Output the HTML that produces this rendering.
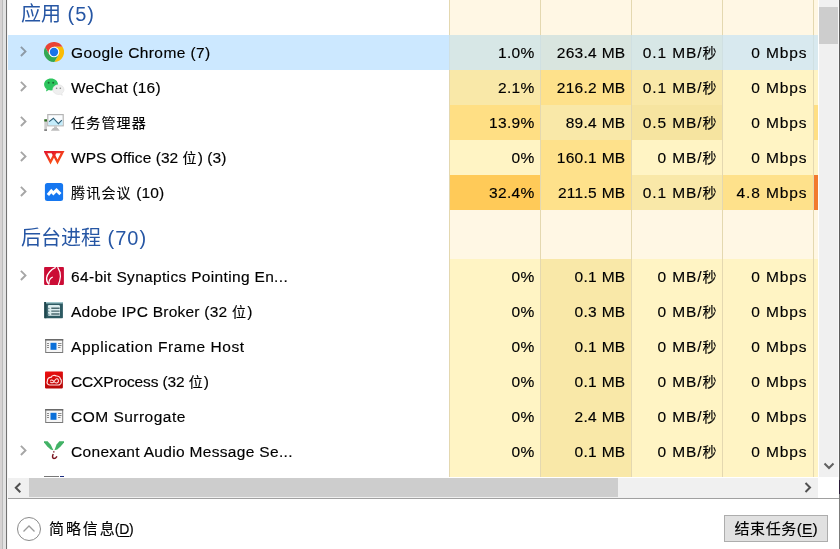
<!DOCTYPE html>
<html><head><meta charset="utf-8"><style>
*{margin:0;padding:0;box-sizing:border-box}
html,body{width:840px;height:549px;overflow:hidden;background:#fff}
body{position:relative;font-family:"Liberation Sans","Noto Sans CJK SC",sans-serif;font-size:15.5px;color:#000;-webkit-text-stroke-width:.15px}
.a{position:absolute}
.cj{font-family:"Noto Sans CJK SC",sans-serif;font-size:14px;line-height:1;letter-spacing:1.2px}
/* left frame */
#lf0{left:0;top:0;width:2px;height:549px;background:#d6d3d3}
#lf1{left:2px;top:0;width:1px;height:549px;background:#bcbcbc}
#lf2{left:3px;top:0;width:3px;height:549px;background:#e2e2e2}
#lf3{left:6px;top:0;width:1px;height:549px;background:#727272}
#lf4{left:7px;top:0;width:1px;height:549px;background:#f7f7f7}
/* rows */
.row{position:absolute;left:8px;width:810px;height:35px;line-height:35px;white-space:nowrap}
.nm{position:absolute;left:63px;top:0}
.chev{position:absolute;left:12px;top:0}
.ic{position:absolute;left:36px}
.c{position:absolute;top:0;height:35px;width:91px;border-left:1px solid #e4d8b0;text-align:right;padding-right:5.5px;letter-spacing:.3px}
.c3,.c4{letter-spacing:.9px}
.c1{left:441px}.c2{left:532px}.c3{left:623px}.c4{left:714px}.c5{left:805px;width:5px}
.c .cj{letter-spacing:0}
.sel{background:#cce8ff}
.sel .c{background:#d7e7e6;border-left-color:#d0e0e2}
.sel .c2{background:#d9e5df}.sel .c4,.sel .c5{background:#d8e9ef}
.grp{position:absolute;left:8px;width:810px;height:49px;white-space:nowrap}
.grp .t{position:absolute;left:13px;top:4px;letter-spacing:1px;-webkit-text-stroke-width:0;line-height:49px;color:#2656a4;font-size:20px}
.grp .t .cj{font-size:20px;letter-spacing:0}
.grp .c{height:49px;background:#fff7e4}
.l0{background:#fff4c4}
.l1{background:#f9e8a8}
.l2{background:#f6e4a0}
.l3{background:#fee18b}
.l4{background:#ffdf84}
.l5{background:#ffca58}
.lr{background:#f27a2e}
/* scrollbars */
#vs{left:819px;top:0;width:19px;height:477px;background:#f0f0f0}
#vs2{left:838px;top:0;width:1px;height:477px;background:#f8f8f8}
#vsw{left:818px;top:0;width:1px;height:477px;background:#fff}
#vth{left:819px;top:7px;width:19px;height:37px;background:#cdcdcd}
#hs{left:8px;top:478px;width:810px;height:20px;background:#f0f0f0}
#hth{left:29px;top:478px;width:589px;height:19px;background:#cdcdcd}
#corner{left:818px;top:477px;width:21px;height:21px;background:#fff}
#sep{left:8px;top:498px;width:831px;height:1px;background:#a0a0a0}
#rb{left:839px;top:0;width:1px;height:549px;background:#5c5c5c}
#rb2{left:839px;top:494px;width:1px;height:55px;background:#7c7c7c}
#rb3{left:839px;top:480px;width:1px;height:14px;background:#2a1a36}
#btn{left:724px;top:515px;width:104px;height:27px;background:#e1e1e1;border:1px solid #adadad;text-align:center;line-height:25px}
#fw{left:49px;top:515px;line-height:27px;font-size:16px}
u{text-decoration:underline;text-underline-offset:2px}
</style></head><body>
<div class="a" id="lf0"></div><div class="a" id="lf1"></div><div class="a" id="lf2"></div><div class="a" id="lf3"></div><div class="a" id="lf4"></div>

<!-- group header 1 -->
<div class="grp" style="top:-14px">
  <div class="t"><span class="cj">应用</span> (5)</div>
  <div class="c c1"></div><div class="c c2"></div><div class="c c3"></div><div class="c c4"></div><div class="c c5"></div>
</div>

<!-- Chrome -->
<div class="row sel" style="top:35px">
  <svg class="chev" width="8" height="35" viewBox="0 0 8 35"><path d="M0.9 11.8 L5.5 16.4 L0.9 21" fill="none" stroke="#8d9aa6" stroke-width="1.9"/></svg>
  <svg class="ic" style="top:7px" width="20" height="20" viewBox="0 0 20 20">
    <g id="chr"><path d="M5.41 12.65 L1.17 5.31 A10 10 0 0 1 18.5 4.7 L10 4.7 L10 10 Z" fill="#ea4335"/></g>
    <path transform="rotate(120 10 10)" d="M5.41 12.65 L1.17 5.31 A10 10 0 0 1 18.5 4.7 L10 4.7 L10 10 Z" fill="#fbbc04"/>
    <path transform="rotate(240 10 10)" d="M5.41 12.65 L1.17 5.31 A10 10 0 0 1 18.5 4.7 L10 4.7 L10 10 Z" fill="#34a853"/>
    <circle cx="10" cy="10" r="5.3" fill="#fff"/><circle cx="10" cy="10" r="4.2" fill="#1a73e8"/>
  </svg>
  <div class="nm" style="letter-spacing:0.41px">Google Chrome (7)</div>
  <div class="c c1">1.0%</div><div class="c c2">263.4 MB</div><div class="c c3">0.1 MB/<span class="cj">秒</span></div><div class="c c4">0 Mbps</div><div class="c c5"></div>
</div>

<!-- WeChat -->
<div class="row" style="top:70px">
  <svg class="chev" width="8" height="35" viewBox="0 0 8 35"><path d="M0.9 11.8 L5.5 16.4 L0.9 21" fill="none" stroke="#a6a6a6" stroke-width="1.9"/></svg>
  <svg class="ic" style="top:7px" width="22" height="20" viewBox="0 0 22 20">
    <path d="M7 1.5 C3.1 1.5 0.1 4.1 0.1 7.5 C0.1 9.4 1.1 11 2.6 12.1 L2 14.5 L4.8 13 C5.5 13.3 6.3 13.4 7 13.4 C10.9 13.4 14 10.8 14 7.5 C14 4.1 10.9 1.5 7 1.5 Z" fill="#2dc55e"/>
    <circle cx="4.6" cy="5.7" r="1" fill="#1b6b34"/><circle cx="9.2" cy="5.7" r="1" fill="#1b6b34"/>
    <path d="M14.4 7.8 C11.3 7.8 8.8 9.9 8.8 12.6 C8.8 15.3 11.3 17.5 14.4 17.5 C15 17.5 15.6 17.4 16.1 17.2 L18.3 18.3 L17.8 16.4 C19.1 15.5 20 14.1 20 12.6 C20 9.9 17.5 7.8 14.4 7.8 Z" fill="#efefef" stroke="#e0e0e0" stroke-width="0.6"/>
    <circle cx="12.6" cy="11.2" r="0.8" fill="#888"/><circle cx="16.3" cy="11.2" r="0.8" fill="#888"/>
  </svg>
  <div class="nm" style="letter-spacing:0.20px">WeChat (16)</div>
  <div class="c c1 l1">2.1%</div><div class="c c2 l3">216.2 MB</div><div class="c c3 l1">0.1 MB/<span class="cj">秒</span></div><div class="c c4 l0">0 Mbps</div><div class="c c5 l0"></div>
</div>

<!-- Task manager -->
<div class="row" style="top:105px">
  <svg class="chev" width="8" height="35" viewBox="0 0 8 35"><path d="M0.9 11.8 L5.5 16.4 L0.9 21" fill="none" stroke="#a6a6a6" stroke-width="1.9"/></svg>
  <svg class="ic" style="top:7px" width="22" height="22" viewBox="0 0 22 22">
    <rect x="3.8" y="2.6" width="15.4" height="11.2" fill="#fbfdff" stroke="#b4b4b4" stroke-width="1.2"/>
    <path d="M4.5 9.6 L5.2 9.6 L9.4 6.2 L14.4 11.6 L17.8 8.2 L18.6 8.2 L18.6 13.2 L4.5 13.2 Z" fill="#c4ecfb"/>
    <path d="M5.2 9.6 L9.4 6.2 L14.4 11.6 L17.8 8.2" fill="none" stroke="#2c5f78" stroke-width="1.1"/>
    <rect x="10" y="14.4" width="3" height="1.8" fill="#c4c4c4"/>
    <path d="M9 16 L13.6 16 L15.8 18.7 L6.8 18.7 Z" fill="#bcbcbc"/>
    <rect x="0.3" y="7.3" width="2.7" height="11.5" fill="#cfcfcf"/>
    <rect x="0.3" y="7.3" width="2.7" height="2.2" fill="#2f6e22"/>
    <rect x="0.3" y="17.4" width="2.7" height="1.4" fill="#6e6e6e"/>
  </svg>
  <div class="nm" style="letter-spacing:0.30px"><span class="cj">任务管理器</span></div>
  <div class="c c1 l4">13.9%</div><div class="c c2 l1">89.4 MB</div><div class="c c3 l2">0.5 MB/<span class="cj">秒</span></div><div class="c c4 l0">0 Mbps</div><div class="c c5 l4"></div>
</div>

<!-- WPS -->
<div class="row" style="top:140px">
  <svg class="chev" width="8" height="35" viewBox="0 0 8 35"><path d="M0.9 11.8 L5.5 16.4 L0.9 21" fill="none" stroke="#a6a6a6" stroke-width="1.9"/></svg>
  <svg class="ic" style="top:7px" width="22" height="22" viewBox="0 0 22 22">
    <defs><linearGradient id="wg" x1="0" y1="0" x2="1" y2="1"><stop offset="0" stop-color="#e3182c"/><stop offset="1" stop-color="#ff5a12"/></linearGradient></defs>
    <path d="M1.4 5.1 L11.6 5.1 L6.5 15 Z" fill="none" stroke="url(#wg)" stroke-width="2.3" stroke-linejoin="miter"/>
    <path d="M8.4 5.1 L18.6 5.1 L13.5 15 Z" fill="none" stroke="url(#wg)" stroke-width="2.3" stroke-linejoin="miter"/>
  </svg>
  <div class="nm" style="letter-spacing:0.05px">WPS Office (32 <span class="cj">位</span>) (3)</div>
  <div class="c c1 l0">0%</div><div class="c c2 l3">160.1 MB</div><div class="c c3 l0">0 MB/<span class="cj">秒</span></div><div class="c c4 l0">0 Mbps</div><div class="c c5 l0"></div>
</div>

<!-- Tencent meeting -->
<div class="row" style="top:175px">
  <svg class="chev" width="8" height="35" viewBox="0 0 8 35"><path d="M0.9 11.8 L5.5 16.4 L0.9 21" fill="none" stroke="#a6a6a6" stroke-width="1.9"/></svg>
  <svg class="ic" style="top:7px" width="22" height="22" viewBox="0 0 22 22">
    <rect x="0.9" y="0.9" width="18.2" height="18.1" rx="2.5" fill="#1677f0"/>
    <path d="M3.9 12.9 L7.3 9 L9.4 11.2 L12.5 8.2 L16.4 12.1" fill="none" stroke="#fff" stroke-width="3.1" stroke-linejoin="miter"/>
  </svg>
  <div class="nm" style="letter-spacing:0.10px"><span class="cj">腾讯会议</span> (10)</div>
  <div class="c c1 l5">32.4%</div><div class="c c2 l3">211.5 MB</div><div class="c c3 l1">0.1 MB/<span class="cj">秒</span></div><div class="c c4 l3">4.8 Mbps</div><div class="c c5 lr"></div>
</div>

<!-- group header 2 -->
<div class="grp" style="top:210px">
  <div class="t"><span class="cj">后台进程</span> (70)</div>
  <div class="c c1"></div><div class="c c2"></div><div class="c c3"></div><div class="c c4"></div><div class="c c5"></div>
</div>

<!-- 64-bit Synaptics -->
<div class="row" style="top:259px">
  <svg class="chev" width="8" height="35" viewBox="0 0 8 35"><path d="M0.9 11.8 L5.5 16.4 L0.9 21" fill="none" stroke="#a6a6a6" stroke-width="1.9"/></svg>
  <svg class="ic" style="top:7px" width="22" height="22" viewBox="0 0 22 22">
    <rect x="0.1" y="1.1" width="19.8" height="17.8" rx="0.8" fill="#cb0c35"/>
    <path d="M11.7 1.4 C7 3.5 3 8 2.6 12 C2.4 14.5 3.5 17 5.2 18.6" fill="none" stroke="#fff" stroke-width="1.3"/>
    <path d="M5 17.8 C4.8 14.5 6 12 8.8 11" fill="none" stroke="#fff" stroke-width="1.2"/>
    <path d="M13.6 1.1 C15.5 4 16.6 7.5 16.4 10.5 C16.2 13.5 15.3 16.5 14.3 18.9" fill="none" stroke="#fff" stroke-width="1.2"/>
  </svg>
  <div class="nm" style="letter-spacing:0.33px">64-bit Synaptics Pointing En...</div>
  <div class="c c1 l0">0%</div><div class="c c2 l1">0.1 MB</div><div class="c c3 l0">0 MB/<span class="cj">秒</span></div><div class="c c4 l0">0 Mbps</div><div class="c c5 l0"></div>
</div>

<!-- Adobe IPC Broker -->
<div class="row" style="top:294px">
  <svg class="ic" style="top:7px" width="22" height="22" viewBox="0 0 22 22">
    <rect x="0.3" y="1" width="18.6" height="16.2" rx="0.6" fill="#2d5a62"/>
    <rect x="0.3" y="1" width="2" height="16.2" fill="#1f464d"/>
    <rect x="2" y="1" width="16.9" height="1.5" fill="#9fc6cb"/>
    <path d="M4.6 4.1 L15.2 4.1 L16 4.9 L16 14.8 L4.6 14.8 L3.9 14 L3.9 4.8 Z" fill="#dcedef"/>
    <path d="M7.3 6.5 L15.6 6.5 L15.6 8 L7.3 8 Z M7.3 9.4 L15.6 9.4 L15.6 10.8 L7.3 10.8 Z M7.3 12.3 L15.6 12.3 L15.6 13.8 L7.3 13.8 Z" fill="#4b6a70"/>
    <path d="M3.9 6.4 L6.2 7.4 L3.9 8.4 Z M3.9 9.3 L6.2 10.3 L3.9 11.3 Z M3.9 12.2 L6.2 13.2 L3.9 14.2 Z" fill="#7d9aa0"/>
  </svg>
  <div class="nm" style="letter-spacing:0.24px">Adobe IPC Broker (32 <span class="cj">位</span>)</div>
  <div class="c c1 l0">0%</div><div class="c c2 l1">0.3 MB</div><div class="c c3 l0">0 MB/<span class="cj">秒</span></div><div class="c c4 l0">0 Mbps</div><div class="c c5 l0"></div>
</div>

<!-- Application Frame Host -->
<div class="row" style="top:329px">
  <svg class="ic" style="top:7px" width="22" height="22" viewBox="0 0 22 22">
    <rect x="1.7" y="3.5" width="17" height="13" fill="#f6f6f6" stroke="#7a7a7a"/>
    <rect x="1.2" y="3" width="18" height="1.6" fill="#6a6a6a"/>
    <rect x="6.5" y="6.8" width="6" height="7" fill="#0a6fd8"/>
    <path d="M3 7.5 L5 7.5 M3 9.5 L5 9.5 M3 11.5 L5 11.5 M14 7.5 L17.5 7.5 M14 9.5 L17.5 9.5 M14 11.5 L16.5 11.5" stroke="#8a8a8a" stroke-width="1"/>
  </svg>
  <div class="nm" style="letter-spacing:0.57px">Application Frame Host</div>
  <div class="c c1 l0">0%</div><div class="c c2 l1">0.1 MB</div><div class="c c3 l0">0 MB/<span class="cj">秒</span></div><div class="c c4 l0">0 Mbps</div><div class="c c5 l0"></div>
</div>

<!-- CCXProcess -->
<div class="row" style="top:364px">
  <svg class="ic" style="top:7px" width="22" height="22" viewBox="0 0 22 22">
    <defs><linearGradient id="cg" x1="0" y1="0" x2="0.3" y2="1"><stop offset="0" stop-color="#f01010"/><stop offset="1" stop-color="#b80808"/></linearGradient></defs>
    <rect x="1" y="0.5" width="17.9" height="16.9" rx="0.8" fill="url(#cg)"/>
    <path d="M5.6 14 C3.3 14 2.5 11.5 3.4 10 C3.2 7.8 5 6 7 6.4 C7.8 4.5 10.6 3.6 12.3 5 C14.2 4.8 16.2 6 16.5 8 C17.8 9 17.7 12.5 15.8 13.5 C15.3 13.9 14.8 14 14.3 14 Z" fill="none" stroke="#ffe0e0" stroke-width="1.2"/>
    <path d="M6.3 9.6 C7.6 8.2 9.4 9.8 10.4 11 C11.4 12.1 13 12.6 14.1 11.2 C15 9.8 14.2 7.6 12.6 7.8 C11.3 8 10.8 9.5 10 10.6 C9 12 7.1 12.2 6.3 10.8" fill="none" stroke="#ffe0e0" stroke-width="1.1"/>
  </svg>
  <div class="nm" style="letter-spacing:-0.14px">CCXProcess (32 <span class="cj">位</span>)</div>
  <div class="c c1 l0">0%</div><div class="c c2 l1">0.1 MB</div><div class="c c3 l0">0 MB/<span class="cj">秒</span></div><div class="c c4 l0">0 Mbps</div><div class="c c5 l0"></div>
</div>

<!-- COM Surrogate -->
<div class="row" style="top:399px">
  <svg class="ic" style="top:7px" width="22" height="22" viewBox="0 0 22 22">
    <rect x="1.7" y="3.5" width="17" height="13" fill="#f6f6f6" stroke="#7a7a7a"/>
    <rect x="1.2" y="3" width="18" height="1.6" fill="#6a6a6a"/>
    <rect x="6.5" y="6.8" width="6" height="7" fill="#0a6fd8"/>
    <path d="M3 7.5 L5 7.5 M3 9.5 L5 9.5 M3 11.5 L5 11.5 M14 7.5 L17.5 7.5 M14 9.5 L17.5 9.5 M14 11.5 L16.5 11.5" stroke="#8a8a8a" stroke-width="1"/>
  </svg>
  <div class="nm" style="letter-spacing:0.48px">COM Surrogate</div>
  <div class="c c1 l0">0%</div><div class="c c2 l1">2.4 MB</div><div class="c c3 l0">0 MB/<span class="cj">秒</span></div><div class="c c4 l0">0 Mbps</div><div class="c c5 l0"></div>
</div>

<!-- Conexant -->
<div class="row" style="top:434px">
  <svg class="chev" width="8" height="35" viewBox="0 0 8 35"><path d="M0.9 11.8 L5.5 16.4 L0.9 21" fill="none" stroke="#a6a6a6" stroke-width="1.9"/></svg>
  <svg class="ic" style="top:7px" width="22" height="22" viewBox="0 0 22 22">
    <path d="M0 0.2 L3.6 0.2 L6.8 3.8 L9.4 9.3 L6.6 8.5 L3.3 5.6 L0 1.4 Z" fill="#42b266"/>
    <path d="M20 0.2 L15.4 0.2 L12.6 3.6 L10.4 9.3 L13.3 8.4 L16.6 5.4 L20 1.6 Z" fill="#42b266"/>
    <path d="M9.8 10.3 L9.8 11.5" stroke="#7a1520" stroke-width="1.4"/>
    <path d="M9.2 13 C8 15.5 8.5 17.5 10 17.5 C11 17.5 12.2 16.5 13 15.3" fill="none" stroke="#7a1520" stroke-width="1.5"/>
  </svg>
  <div class="nm" style="letter-spacing:0.32px">Conexant Audio Message Se...</div>
  <div class="c c1 l0">0%</div><div class="c c2 l1">0.1 MB</div><div class="c c3 l0">0 MB/<span class="cj">秒</span></div><div class="c c4 l0">0 Mbps</div><div class="c c5 l0"></div>
</div>

<!-- partial row -->
<div class="row" style="top:469px;height:8px;overflow:hidden">
  <div class="a" style="left:36px;top:7px;width:15px;height:1px;background:#777"></div>
  <div class="a" style="left:52px;top:7px;width:4px;height:1px;background:#1a2a80"></div>
  <div class="c c1 l0"></div><div class="c c2 l1"></div><div class="c c3 l0"></div><div class="c c4 l0"></div><div class="c c5 l0"></div>
</div>

<!-- scrollbars -->
<div class="a" id="vsw"></div>
<div class="a" id="vs"></div><div class="a" id="vs2"></div>
<div class="a" id="vth"></div>
<svg class="a" style="left:819px;top:457px" width="20" height="20" viewBox="0 0 20 20"><path d="M5.5 6.5 L10 11 L14.5 6.5" fill="none" stroke="#606060" stroke-width="2"/></svg>
<div class="a" id="hs"></div>
<div class="a" id="hth"></div>
<svg class="a" style="left:8px;top:477px" width="21" height="21" viewBox="0 0 21 21"><path d="M12.3 6.2 L7.8 10.7 L12.3 15.2" fill="none" stroke="#505050" stroke-width="2"/></svg>
<svg class="a" style="left:797px;top:477px" width="21" height="21" viewBox="0 0 21 21"><path d="M8.5 6 L13 10.5 L8.5 15" fill="none" stroke="#505050" stroke-width="2"/></svg>
<div class="a" id="corner"></div>
<div class="a" id="sep"></div>
<div class="a" id="rb"></div>
<div class="a" id="rb2"></div><div class="a" id="rb3"></div>

<!-- footer -->
<svg class="a" style="left:16px;top:516px" width="26" height="26" viewBox="0 0 26 26"><circle cx="13" cy="13" r="11.5" fill="none" stroke="#8a8a8a" stroke-width="1"/><path d="M7.5 15.5 L13 10 L18.5 15.5" fill="none" stroke="#9a9a9a" stroke-width="1.3"/></svg>
<div class="a" id="fw"><span class="cj" style="font-size:15px;letter-spacing:1.9px">简略信</span><span class="cj" style="font-size:15px;letter-spacing:0">息</span><span style="font-size:14px;letter-spacing:-.2px">(<u>D</u>)</span></div>
<div class="a" id="btn"><span class="cj" style="font-size:15px;letter-spacing:.6px">结束任务</span>(<u>E</u>)</div>
</body></html>
